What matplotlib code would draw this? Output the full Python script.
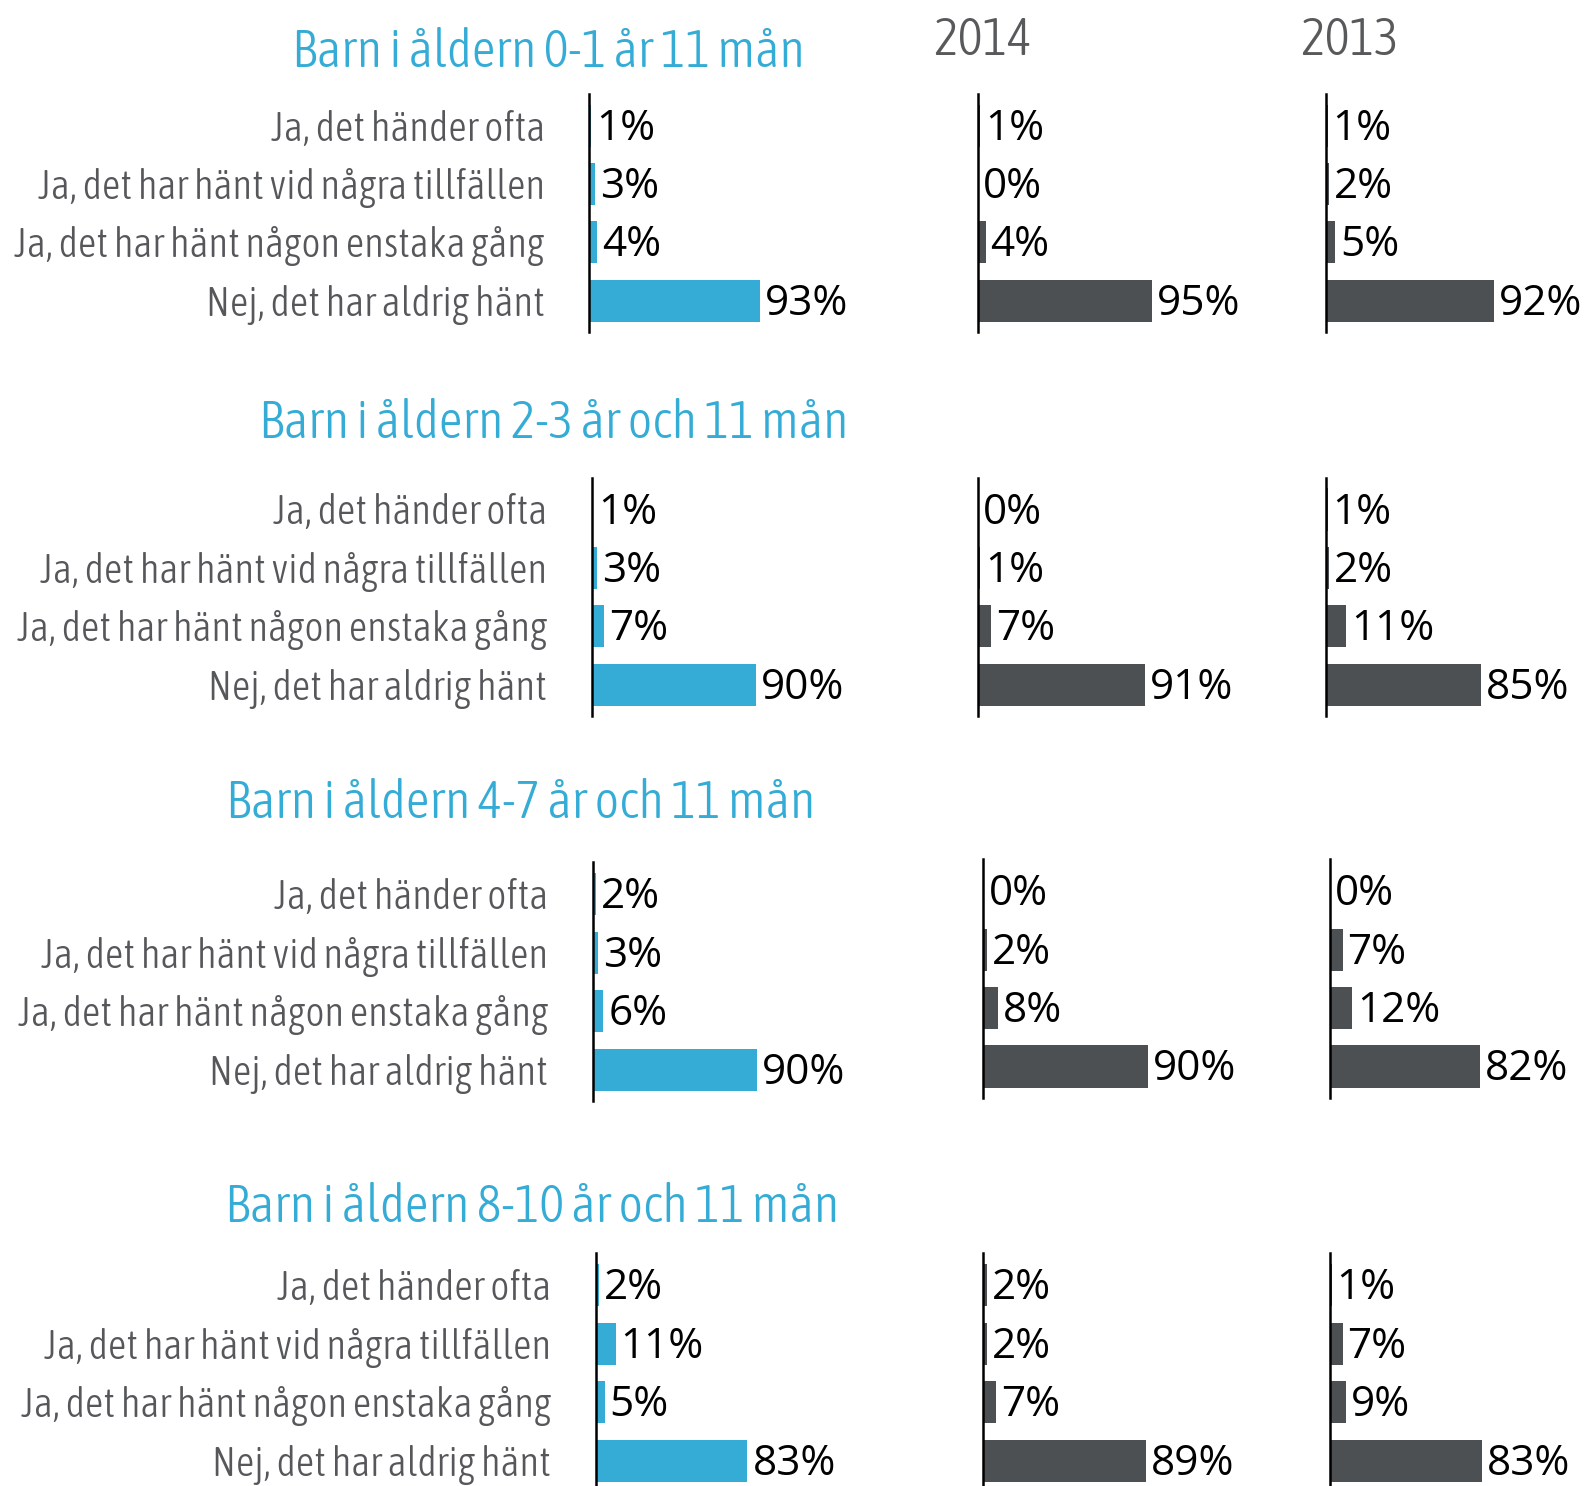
import matplotlib
matplotlib.use('Agg')
import matplotlib.pyplot as plt
from matplotlib import font_manager

W, H = 1588, 1486
BLUE = '#35acd6'
DARK = '#4d5052'
LABEL_COLOR = '#55575a'
YEAR_COLOR = '#58595b'

categories = ['Ja, det händer ofta',
              'Ja, det har hänt vid några tillfällen',
              'Ja, det har hänt någon enstaka gång',
              'Nej, det har aldrig hänt']
group_titles = ['Barn i åldern 0-1 år 11 mån',
                'Barn i åldern 2-3 år och 11 mån',
                'Barn i åldern 4-7 år och 11 mån',
                'Barn i åldern 8-10 år och 11 mån']
years = ['2014', '2013']
current = [[1, 3, 4, 93], [1, 3, 7, 90], [2, 3, 6, 90], [2, 11, 5, 83]]
y2014 = [[1, 0, 4, 95], [0, 1, 7, 91], [0, 2, 8, 90], [2, 2, 7, 89]]
y2013 = [[1, 2, 5, 92], [1, 2, 11, 85], [0, 7, 12, 82], [1, 7, 9, 83]]

# layout in pixels
axis_x = [[589.4, 978.3, 1325.7], [591.5, 978.3, 1325.7],
          [592.5, 983.4, 1329.8], [595.5, 983.4, 1329.8]]
row0_y = [[125.6, 125.6, 125.6], [509.5, 509.5, 509.5],
          [894.4, 891.3, 891.3], [1285.4, 1285.4, 1285.4]]
title_pos = [(548, 52.7), (554, 423.4), (520.6, 803.2), (531.7, 1207.4)]
year_pos = [(982.4, 40.5), (1349, 40.5)]
ROW = 58.4
PX_PER_PCT = 1.83


def pick_condensed():
    order = {'ultra-condensed': 0, 'extra-condensed': 1, 'condensed': 2, 'semi-condensed': 3}
    wmap = {'ultralight': 200, 'light': 300, 'normal': 400, 'regular': 400, 'book': 400,
            'medium': 500, 'semibold': 600, 'demibold': 600, 'bold': 700}
    best = None
    for f in font_manager.fontManager.ttflist:
        st = str(f.stretch)
        if st not in order or f.style != 'normal':
            continue
        w = f.weight if isinstance(f.weight, int) else wmap.get(str(f.weight), 400)
        key = (abs(w - 300) // 100, order[st])
        if best is None or key < best[0]:
            best = (key, f.fname)
    if best:
        return font_manager.FontProperties(fname=best[1])
    return font_manager.FontProperties(family='DejaVu Sans')


cond = pick_condensed()
num_family = ['Open Sans', 'DejaVu Sans']

fig = plt.figure(figsize=(W / 100, H / 100), dpi=100)
renderer = fig.canvas.get_renderer()


def fx(x):
    return x / W


def fy(y):
    return 1 - y / H


def fit_size(text, target_w, **kw):
    t = fig.text(0, 0, text, fontsize=20, **kw)
    w = t.get_window_extent(renderer).width
    t.remove()
    return 20 * target_w / w


title_size = fit_size(group_titles[3], 614, fontproperties=cond)
label_size = fit_size(categories[2], 530, fontproperties=cond)
num_size = fit_size('93%', 83, family=num_family)

for (x, y), yr in zip(year_pos, years):
    fig.text(fx(x), fy(y), yr, fontproperties=cond, fontsize=title_size,
             color=YEAR_COLOR, ha='center', va='center')

for g in range(4):
    tx, ty = title_pos[g]
    fig.text(fx(tx), fy(ty), group_titles[g], fontproperties=cond, fontsize=title_size,
             color=BLUE, ha='center', va='center')
    series = [current[g], y2014[g], y2013[g]]
    colors = [BLUE, DARK, DARK]
    for p in range(3):
        x0 = axis_x[g][p]
        r0 = row0_y[g][p]
        top = r0 - 32
        bottom = r0 + 3 * ROW + 31
        axw = 240
        ax = fig.add_axes([fx(x0), fy(bottom), axw / W, (bottom - top) / H])
        ax.set_xlim(0, axw / PX_PER_PCT)
        ax.set_ylim(3 + 31 / ROW, -32 / ROW)
        ax.patch.set_alpha(0)
        vals = series[p]
        ax.barh(range(4), vals, height=0.72, color=colors[p])
        for i, v in enumerate(vals):
            ax.annotate(f'{v}%', (v, i), xytext=(5, -3), textcoords='offset pixels',
                        ha='left', va='center', fontsize=num_size, family=num_family,
                        color='black', annotation_clip=False)
        for s in ['top', 'right', 'bottom']:
            ax.spines[s].set_visible(False)
        ax.spines['left'].set_linewidth(1.8)
        ax.spines['left'].set_color('black')
        ax.set_xticks([])
        ax.set_yticks([])
        if p == 0:
            for i, c in enumerate(categories):
                fig.text(fx(x0 - 44.6), fy(r0 + i * ROW + 4), c, fontproperties=cond,
                         fontsize=label_size, color=LABEL_COLOR, ha='right', va='center')

fig.savefig('out.png', dpi=100)
